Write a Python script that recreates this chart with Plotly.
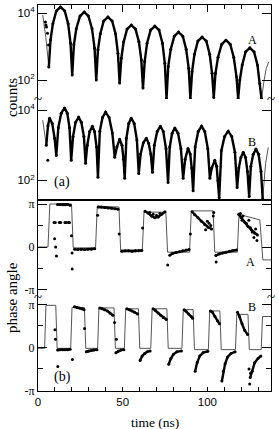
import plotly.graph_objects as go

# ---------------- data ----------------
# Panel (a) A : counts vs time (ns)
tA = [6.4, 7.4, 8.8, 10.8, 13.3, 15.8, 17.8, 19.2, 20.2,
      21.2, 22.6, 24.8, 27.3, 29.8, 31.9, 33.4, 34.4,
      35.4, 36.8, 38.8, 41.3, 43.8, 45.8, 47.2, 48.2,
      49.2, 50.6, 52.6, 55.1, 57.6, 59.6, 61.0, 62.0,
      63.0, 64.4, 66.5, 69.0, 71.5, 73.5, 74.9, 75.9,
      76.9, 78.4, 80.5, 83.0, 85.5, 87.5, 89.0, 90.0,
      91.0, 92.4, 94.4, 96.9, 99.4, 101.4, 102.8, 103.8,
      104.8, 106.3, 108.5, 111.0, 113.5, 115.6, 117.2, 118.2,
      119.2, 120.6, 122.6, 125.1, 127.6, 129.6, 131.0, 132.0]
countsA = [245, 1580, 4800, 11500, 15100, 11500, 4800, 1260, 141,
           1120, 3390, 8100, 10700, 8100, 3390, 891, 100,
           794, 2400, 5750, 7600, 5750, 2400, 631, 81,
           447, 1380, 3310, 4370, 3310, 1380, 398, 58,
           355, 1260, 3090, 4070, 3090, 1260, 316, 28,
           251, 832, 2040, 2690, 2040, 832, 224, 28,
           178, 589, 1450, 1910, 1450, 589, 158, 30,
           158, 479, 1170, 1550, 1170, 479, 126, 28,
           100, 282, 692, 912, 692, 282, 79, 27]
fitA_start_t = [2.8, 4.6]
fitA_start = [8700, 1900]
fitA_end_t = [133.4, 134.8, 136.3]
fitA_end = [90, 220, 350]
outA_t = [4.4, 4.7, 5.0, 5.6, 6.2]
outA = [5370, 4370, 3800, 2500, 1100]

# Panel (a) B
tB = [4.9, 5.9, 6.8, 8.4, 9.8, 10.8,
      12.0, 13.7, 15.7, 17.3, 18.6, 19.6,
      20.7, 22.2, 24.0, 25.6, 27.1, 28.1,
      29.1, 30.5, 32.1, 33.4, 34.6, 35.4,
      36.5, 38.1, 39.9, 42.0, 43.9, 45.3,
      46.6, 48.2, 49.6, 50.5, 51.2,
      52.2, 53.6, 55.1, 56.8, 58.4, 59.5,
      60.6, 62.2, 64.0, 65.4, 66.6, 67.6,
      68.7, 70.4, 72.3, 74.0, 75.6, 76.8,
      77.8, 79.2, 80.8, 82.7, 84.4, 85.7,
      86.9, 88.6, 89.9, 90.8, 91.6,
      92.8, 94.6, 96.6, 98.5, 100.3, 101.5,
      102.6, 104.4, 105.5, 106.3, 107.0,
      108.3, 110.2, 112.3, 114.4, 116.3, 117.6,
      118.6, 119.8, 121.2, 122.6, 123.7, 124.7,
      125.7, 127.1, 128.7, 130.3, 131.7, 132.7]
countsB = [1000, 3550, 5890, 4170, 1585, 513,
           3160, 8130, 11500, 8130, 3160, 372,
           1780, 4470, 6310, 4470, 1780, 309,
           1000, 2450, 3470, 2450, 891, 123,
           2510, 6170, 8710, 6170, 2240, 457,
           891, 1480, 1000, 398, 115,
           1585, 4170, 5890, 4170, 1410, 158,
           562, 1175, 1585, 1120, 562, 170,
           1000, 2450, 3470, 2450, 794, 87,
           891, 2190, 3090, 2190, 794, 115,
           398, 813, 562, 224, 51,
           891, 2450, 3470, 2450, 794, 115,
           224, 372, 251, 100, 32,
           708, 1780, 2510, 1780, 631, 63,
           224, 447, 631, 447, 178, 35,
           251, 550, 776, 550, 178, 30]
fitB_start_t = [2.8]
fitB_start = [5130]
fitB_end_t = [134.4, 136.0]
fitB_end = [300, 870]
outB_t = [5.8]
outB = [372]

# Panel (b) A : phase angle in units of pi
fitPA_t = [0, 5.9, 7.0, 19.8, 20.8, 34.0, 35.0, 47.8, 48.8, 61.6, 62.6, 75.5, 76.5,
           89.5, 90.5, 103.4, 104.4, 117.7, 118.7, 131.0, 132.8, 137.6]
fitPA = [0, 0, 1.0, 1.0, -0.02, -0.02, 0.95, 0.93, -0.07, -0.07, 0.81, 0.81, -0.12,
         -0.12, 0.84, 0.84, -0.12, -0.12, 0.76, 0.63, -0.30, -0.30]
dPA_t = [11.5, 13, 14.5, 16, 17.5, 19.0, None,
         21.6, 23.5, 25.5, 27.5, 29.5, 31.5, 33.5, None,
         35.6, 37.5, 39.5, 41.5, 43.5, 45.5, 47.3, None,
         49.4, 51.5, 53.5, 55.5, 57.5, 59.5, 61.3, None,
         63.2, 65, 67, 69, 71, 73, 75.0, None,
         77.8, 79.5, 81.5, 83.5, 85.5, 87.5, 89.2, None,
         91.0, 92.5, 94.5, 96.5, 98.5, 100.5, 102.5, None,
         105.0, 107, 109, 111, 113, 115, 117.2, None,
         118.5, 120, 122, 124, 126, 128, 129.6]
dPA = [0.99, 0.99, 0.98, 0.98, 0.99, 0.97, None,
       -0.05, -0.06, -0.05, -0.06, -0.05, -0.05, -0.04, None,
       0.93, 0.93, 0.92, 0.91, 0.90, 0.89, 0.88, None,
       -0.10, -0.09, -0.09, -0.10, -0.09, -0.09, -0.08, None,
       0.83, 0.79, 0.72, 0.68, 0.70, 0.76, 0.82, None,
       -0.19, -0.15, -0.13, -0.11, -0.09, -0.07, -0.06, None,
       0.82, 0.75, 0.68, 0.60, 0.52, 0.46, 0.42, None,
       -0.20, -0.16, -0.14, -0.12, -0.10, -0.08, -0.07, None,
       0.76, 0.68, 0.58, 0.48, 0.40, 0.32, 0.28]
oPA_t = [9.5, 10.2, 12.6, 13.4, 15.9, 16.7, 18.0, 18.6,
         9.8, 10.4, 10.9, 19.8, 20.1, 20.2, 35.2, 47.9, 61.8, 76.6, 90.0, 105.2,
         66, 68, 70, 72, 99, 100, 101, 102, 103.5, 103.8,
         119.5, 120.5, 121, 123, 124.5, 125.5, 126.5, 127.5, 128.5, 129.3]
oPA = [0.57, 0.57, 0.57, 0.57, 0.57, 0.57, 0.57, 0.57,
       0.19, 0.0, -0.21, 0.26, -0.14, -0.51, 0.74, 0.30, 0.44, -0.42, 0.30, -0.35,
       0.80, 0.76, 0.74, 0.78, 0.40, 0.60, 0.55, 0.50, 0.72, 0.80,
       0.78, 0.62, 0.72, 0.55, 0.62, 0.45, 0.35, 0.22, 0.42, 0.15]

# Panel (b) B
fitPB_t = [0, 3.9, 4.7, 10.5, 11.3, 19.3, 20.1, 27.4, 28.2, 35.2, 36.0, 44.9, 45.7,
           51.0, 51.8, 59.3, 60.1, 66.6, 67.4, 76.1, 76.9, 85.0, 85.8, 91.6, 92.4,
           100.6, 101.4, 107.4, 108.2, 116.6, 117.4, 124.0, 124.8, 131.8, 132.6, 137.6]
fitPB = [-0.02, -0.02, 0.98, 0.98, -0.02, -0.02, 0.93, 0.93, -0.02, -0.02, 0.92, 0.92, -0.02,
         -0.02, 0.9, 0.9, -0.02, -0.02, 0.9, 0.9, -0.02, -0.02, 0.88, 0.88, -0.05,
         -0.05, 0.85, 0.85, -0.05, -0.05, 0.77, 0.77, -0.05, -0.05, 0.72, 0.72]
dPB_t = [11.6, 13, 14.5, 16, 17.5, 19.0, None,
         21.5, 23, 24.5, 26, 27.2, None,
         28.5, 30, 31.5, 33, 34.8, None,
         36.5, 38, 39.5, 41, 42.5, 44.2, None,
         46, 47.5, 49, 50.7, None,
         52.5, 54, 55.5, 57, 58.8, None,
         60.3, 61.5, 63, 64.5, 66.2, None,
         68, 69.5, 71, 72.5, 74, 75.8, None,
         77.2, 78.5, 80, 82, 84.7, None,
         86.3, 87.5, 89, 90.5, 91.3, None,
         92.8, 94, 95.5, 97.5, 100.3, None,
         101.8, 103, 104.5, 106, 107.2, None,
         108.6, 109.5, 110.5, 112, 114, 116.4, None,
         117.8, 119, 120.5, 122, 123.8, None,
         125.3, 126.5, 128, 130, 131.6]
dPB = [-0.06, -0.05, -0.05, -0.05, -0.05, -0.04, None,
       0.95, 0.93, 0.92, 0.90, 0.88, None,
       -0.10, -0.08, -0.07, -0.06, -0.05, None,
       0.92, 0.90, 0.88, 0.85, 0.80, 0.75, None,
       -0.12, -0.08, -0.06, -0.05, None,
       0.90, 0.88, 0.85, 0.82, 0.78, None,
       -0.30, -0.20, -0.14, -0.10, -0.08, None,
       0.90, 0.86, 0.80, 0.75, 0.70, 0.65, None,
       -0.39, -0.25, -0.16, -0.10, -0.08, None,
       0.88, 0.84, 0.78, 0.72, 0.68, None,
       -0.55, -0.35, -0.20, -0.12, -0.09, None,
       0.85, 0.82, 0.72, 0.62, 0.55, None,
       -0.78, -0.55, -0.38, -0.22, -0.14, -0.10, None,
       0.82, 0.72, 0.55, 0.40, 0.30, None,
       -0.70, -0.55, -0.35, -0.25, -0.20]
oPB_t = [10.0, 10.3, 11.7, 20.3, 27.5, 45.2, 46.3, 124.6, 125.0, 125.5]
oPB = [0.41, 0.19, -0.44, -0.28, 0.44, 0.58, 0.19, -0.50, -0.85, -0.60]

# tick labels
count_ticks = [100, 10000]
count_ticktext = ["10<sup>2</sup>", "10<sup>4</sup>"]
phase_ticks = [-1, 0, 1]
phase_ticktext = ["-π", "0", "π"]
time_ticks = [0, 50, 100]

# ---------------- figure ----------------
W, H = 279, 429
SERIF = "Liberation Serif"
SANS = "Liberation Sans"
FIT = dict(color="#555555", width=1)
DATA_LINE = dict(color="black", width=2.4)
DATA_MK = dict(color="black", size=3)

fig = go.Figure()

def add(x, y, ax, mode, line=None, marker=None):
    fig.add_trace(go.Scatter(x=x, y=y, xaxis=ax[0], yaxis=ax[1], mode=mode,
                             line=line, marker=marker, showlegend=False,
                             hoverinfo="skip", cliponaxis=True))

# (a) A
add(fitA_start_t + tA + fitA_end_t, fitA_start + countsA + fitA_end, ("x", "y"), "lines", line=FIT)
add(tA, countsA, ("x", "y"), "lines+markers", line=DATA_LINE, marker=DATA_MK)
add(outA_t, outA, ("x", "y"), "markers", marker=DATA_MK)
# (a) B
add(fitB_start_t + tB + fitB_end_t, fitB_start + countsB + fitB_end, ("x2", "y2"), "lines", line=FIT)
add(tB, countsB, ("x2", "y2"), "lines+markers", line=DATA_LINE, marker=DATA_MK)
add(outB_t, outB, ("x2", "y2"), "markers", marker=DATA_MK)
# (b) A
add(fitPA_t, fitPA, ("x3", "y3"), "lines", line=FIT)
add(dPA_t, dPA, ("x3", "y3"), "lines+markers", line=DATA_LINE, marker=DATA_MK)
add(oPA_t, oPA, ("x3", "y3"), "markers", marker=DATA_MK)
# (b) B
add(fitPB_t, fitPB, ("x4", "y4"), "lines", line=FIT)
add(dPB_t, dPB, ("x4", "y4"), "lines+markers", line=DATA_LINE, marker=DATA_MK)
add(oPB_t, oPB, ("x4", "y4"), "markers", marker=DATA_MK)

X0, X1 = 38 / W, 271 / W

def ydom(top_px, bot_px):
    return [1 - bot_px / H, 1 - top_px / H]

numfont = dict(family=SANS, size=11.5, color="black")
pifont = dict(family=SERIF, size=12, color="black")
xcommon = dict(domain=[X0, X1], range=[0, 137.6], showgrid=False, zeroline=False,
               showline=True, linecolor="black", linewidth=1, automargin=False)
ycommon = dict(showgrid=False, zeroline=False, showline=True, linecolor="black",
               linewidth=1, mirror="ticks", ticks="inside", ticklen=9,
               tickcolor="black", automargin=False)

fig.update_layout(
    template="none",
    width=W, height=H, margin=dict(l=0, r=0, t=0, b=0, pad=0),
    paper_bgcolor="white", plot_bgcolor="white",
    xaxis=dict(**xcommon, anchor="y", side="top", ticks="inside", ticklen=7,
               tickvals=time_ticks, showticklabels=False, tickcolor="black",
               minor=dict(ticks="inside", ticklen=4, dtick=10, tick0=0, tickcolor="black")),
    yaxis=dict(**ycommon, domain=ydom(5, 99), type="log", range=[1.433, 4.239],
               tickvals=count_ticks, ticktext=count_ticktext, anchor="x", tickfont=numfont),
    xaxis2=dict(**xcommon, anchor="y2", side="bottom", ticks="", showticklabels=False),
    yaxis2=dict(**ycommon, domain=ydom(99, 199.5), type="log", range=[1.457, 4.314],
                tickvals=count_ticks, ticktext=count_ticktext, anchor="x2", tickfont=numfont),
    xaxis3=dict(**xcommon, anchor="y3", side="top", ticks="", showticklabels=False),
    yaxis3=dict(**ycommon, domain=ydom(199.5, 297), range=[-1.163, 1.105],
                tickvals=phase_ticks, ticktext=phase_ticktext, anchor="x3", tickfont=pifont,
                minor=dict(ticks="inside", ticklen=5, tickvals=[-0.5, 0.5], tickcolor="black")),
    xaxis4=dict(**xcommon, anchor="y4", side="bottom", ticks="inside", ticklen=4,
                tickvals=time_ticks, tickfont=numfont, tickcolor="black",
                minor=dict(ticks="inside", ticklen=4, dtick=10, tick0=0, tickcolor="black")),
    yaxis4=dict(**ycommon, domain=ydom(297, 391), range=[-1.012, 1.174],
                tickvals=phase_ticks, ticktext=phase_ticktext, anchor="x4", tickfont=pifont,
                minor=dict(ticks="inside", ticklen=5, tickvals=[-0.5, 0.5], tickcolor="black")),
)

def label(text, xp, yp, size=12, angle=0):
    fig.add_annotation(text=text, x=xp / W, y=1 - yp / H, xref="paper", yref="paper",
                       xanchor="center", yanchor="middle",
                       showarrow=False, textangle=angle,
                       font=dict(family=SERIF, size=size, color="black"))

label("A", 252, 40)
label("B", 252, 142)
label("(a)", 62, 182, size=14)
label("A", 250, 262)
label("B", 252, 307)
label("(b)", 62, 377, size=14)
label("counts", 12, 98, size=15, angle=-90)
label("phase angle", 12, 298, size=15, angle=-90)
label("time (ns)", 155, 422, size=13.5)
for yb in (99, 297):
    label("~", 38, yb, size=15)
    label("~", 271, yb, size=15)

fig.write_html("out.html", config={"displayModeBar": False},
               post_script="document.body.style.margin='0';document.body.style.overflow='hidden';")
